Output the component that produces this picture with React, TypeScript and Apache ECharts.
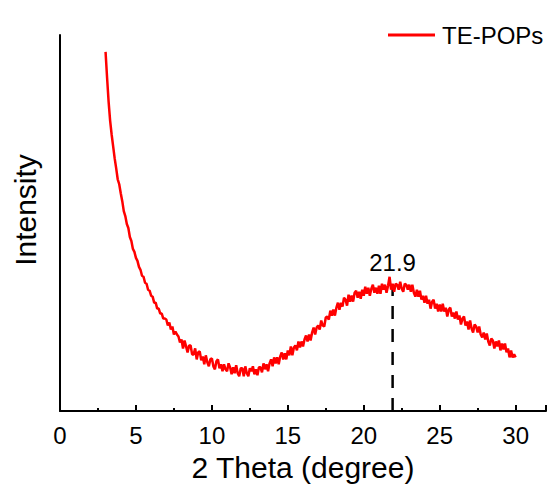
import React, { useEffect, useRef } from "react";
import * as echarts from "echarts";

// 2θ sampling of the pattern (degrees)
const thetaStart = 3.0;
const thetaStep = 0.1;

// Intensity (a.u.), 3.0° … 30.0° every 0.1°
const intensity: number[] = [
  361, 335, 311, 292, 278, 266, 254, 244, 233, 228,
  219, 211, 201, 196, 188, 184, 175, 171, 163, 160,
  154, 151, 145, 142, 136, 135, 129, 128, 122, 121,
  116, 115, 109, 109, 103, 103, 98, 98, 93, 93,
  92, 86, 89, 82, 85, 77, 80, 77, 75, 69,
  72, 63, 71, 65, 59, 66, 66, 57, 57, 63,
  52, 59, 60, 51, 55, 47, 56, 49, 45, 52,
  53, 45, 42, 50, 52, 43, 47, 40, 47, 42,
  40, 48, 44, 37, 44, 38, 46, 38, 35, 43,
  43, 35, 45, 38, 35, 43, 40, 45, 37, 42,
  36, 44, 44, 39, 48, 42, 47, 40, 48, 52,
  45, 54, 48, 54, 47, 55, 59, 52, 58, 52,
  61, 56, 65, 56, 64, 66, 61, 70, 64, 70,
  65, 72, 76, 70, 77, 71, 79, 84, 77, 84,
  86, 82, 91, 86, 85, 94, 95, 92, 101, 96,
  102, 96, 104, 109, 102, 109, 105, 114, 112, 106,
  117, 110, 116, 110, 119, 121, 114, 120, 113, 122,
  116, 125, 118, 124, 116, 123, 127, 119, 124, 118,
  126, 118, 128, 122, 127, 119, 126, 135, 122, 128,
  120, 128, 127, 122, 130, 123, 120, 128, 127, 122,
  127, 120, 127, 119, 115, 122, 115, 121, 112, 116,
  109, 116, 108, 112, 103, 110, 112, 103, 108, 100,
  107, 100, 108, 100, 104, 95, 102, 104, 95, 99,
  93, 100, 92, 96, 87, 93, 95, 86, 90, 82,
  91, 83, 79, 87, 85, 79, 85, 77, 74, 79,
  72, 78, 70, 66, 73, 71, 63, 70, 65, 71,
  61, 68, 62, 68, 59, 63, 54, 61, 54, 57,
  54,
];

// Marked peak
const peakPosition = 21.9;
const peakMarkTop = 124;
const peakLabelLevel = 124;
const peakLabel = "21.9";

const seriesName = "TE-POPs";
const xTitle = "2 Theta (degree)";
const yTitle = "Intensity";

const FONT = "'Liberation Sans', Arial, Helvetica, sans-serif";

export default function App() {
  const ref = useRef<HTMLDivElement>(null);

  useEffect(() => {
    if (!ref.current) return;
    const chart = echarts.init(ref.current, undefined, { renderer: "svg" });
    const pattern = intensity.map((v, i) => [
      +(thetaStart + i * thetaStep).toFixed(2),
      v,
    ]);

    chart.setOption({
      animation: false,
      backgroundColor: "#ffffff",
      textStyle: { fontFamily: FONT },
      grid: { left: 60, right: 5, top: 35, bottom: 74, containLabel: false },
      legend: {
        data: [
          {
            name: seriesName,
            icon: "rect",
            itemStyle: { color: "#ff0000" },
          },
        ],
        left: 388,
        top: 23,
        padding: 0,
        itemWidth: 47,
        itemHeight: 3,
        itemGap: 10,
        textStyle: { fontSize: 24, color: "#000", fontFamily: FONT, padding: [0, 0, 0, 2] },
      },
      graphic: [
        {
          type: "text",
          x: 25,
          y: 210,
          rotation: Math.PI / 2,
          style: {
            text: yTitle,
            fontSize: 30,
            fontFamily: FONT,
            fill: "#000",
            align: "center",
            verticalAlign: "middle",
          },
        },
      ],
      xAxis: {
        type: "value",
        min: 0,
        max: 32,
        interval: 5,
        name: xTitle,
        nameLocation: "middle",
        nameGap: 37,
        nameTextStyle: { fontSize: 30, color: "#000", fontFamily: FONT },
        axisLine: { show: true, onZero: false, lineStyle: { color: "#000", width: 2 } },
        axisTick: { show: true, inside: true, length: 6, lineStyle: { color: "#000", width: 2 } },
        minorTick: { show: true, splitNumber: 2, length: 3, lineStyle: { color: "#000", width: 2 } },
        axisLabel: {
          show: true,
          fontSize: 24,
          color: "#000",
          margin: 12,
          fontFamily: FONT,
          showMaxLabel: false,
          formatter: (v: number) => (v % 5 === 0 ? String(v) : ""),
        },
        splitLine: { show: false },
        minorSplitLine: { show: false },
      },
      yAxis: {
        type: "value",
        min: 0,
        max: 378,
        axisLine: { show: true, lineStyle: { color: "#000", width: 2 } },
        axisTick: { show: false },
        axisLabel: { show: false },
        splitLine: { show: false },
      },
      series: [
        {
          name: seriesName,
          type: "line",
          data: pattern,
          showSymbol: false,
          symbol: "none",
          lineStyle: { color: "#ff0000", width: 2.5 },
          itemStyle: { color: "#ff0000" },
          z: 3,
        },
        {
          name: "peak",
          type: "line",
          data: [
            [peakPosition, 0],
            [peakPosition, peakMarkTop],
          ],
          showSymbol: false,
          symbol: "none",
          lineStyle: { color: "#000", width: 2.5, type: [13, 10] },
          z: 2,
        },
        {
          name: "peakLabel",
          type: "scatter",
          data: [[peakPosition, peakLabelLevel]],
          symbolSize: 0.1,
          itemStyle: { color: "#000", opacity: 1 },
          label: {
            show: true,
            position: "top",
            distance: 13,
            formatter: peakLabel,
            fontSize: 24,
            color: "#000",
            opacity: 1,
            fontFamily: FONT,
          },
          emphasis: { disabled: true },
          silent: true,
          z: 4,
        },
      ],
    });

    return () => chart.dispose();
  }, []);

  return (
    <div
      ref={ref}
      style={{ position: "fixed", left: 0, top: 0, width: 551, height: 487 }}
    />
  );
}
